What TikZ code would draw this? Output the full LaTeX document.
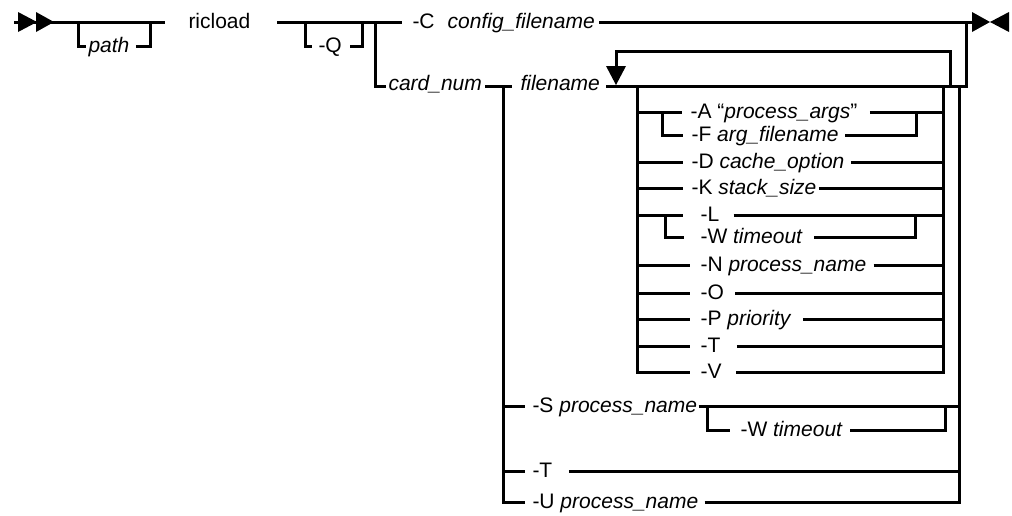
\documentclass[tikz,border=0pt]{standalone}
\usepackage{fontspec}
\setmainfont{Liberation Sans}
\newcommand\dgfont{\fontsize{21}{25}\selectfont}
\begin{document}
\begin{tikzpicture}[x=1pt,y=-1pt,line width=3pt,
  t/.style={font=\dgfont,inner sep=0pt,text height=12pt,text depth=0pt,anchor=west},
  ti/.style={t,font=\dgfont\itshape},
  lo/.style={text height=8pt}]
\useasboundingbox (0,0) rectangle (1012,515);
% ---------- named coordinates ----------
\coordinate (st) at (14,22);
\coordinate (m1) at (165,22);
\coordinate (m2) at (277,22);
\coordinate (pL) at (78,22);
\coordinate (pR) at (150,22);
\coordinate (qL) at (305,22);
\coordinate (qR) at (362,22);
\coordinate (b0) at (375,22);
\coordinate (eT) at (972,22);
\coordinate (e1) at (966,86.5);
\coordinate (cL) at (503,86.5);
\coordinate (bL) at (637,86.5);
\coordinate (bR) at (943,86.5);
\coordinate (lp1) at (950,86.5);
\coordinate (lp2) at (950,51);
\coordinate (lp3) at (616,51);
\coordinate (lp4) at (616,67);
\coordinate (cR) at (959,86.5);
\coordinate (sAF) at (662,112);
\coordinate (eAF) at (916,112);
\coordinate (sLW) at (665,215);
\coordinate (eLW) at (915,215);
\coordinate (sSW) at (707,406);
\coordinate (eSW) at (945,406);
% ---------- start / end marks ----------
\fill (18,12) -- (37,22) -- (18,32) -- cycle;
\fill (36,12) -- (54,22) -- (36,32) -- cycle;
\fill (972,12) -- (990,22) -- (972,32) -- cycle;
\fill (1009,12) -- (990,22) -- (1009,32) -- cycle;
% ---------- top row ----------
\draw (st) -- (m1);
\node[ti] (path) at (87,46) {path};
\draw (pL) -- (pL |- path.west) -- ([xshift=-1pt]path.west);
\draw ([xshift=5pt]path.east) -- (pR |- path.west) -- (pR);
\node[t] (ric) at (187,22) {ricload};
\node[t] (Q) at (317,46) {-Q};
\draw (qL) -- (qL |- Q.west) -- ([xshift=-5pt]Q.west);
\draw ([xshift=7pt]Q.east) -- (qR |- Q.west) -- (qR);
\node[t] (C) at (411,22) {-C\hspace{13pt}\textit{config\_filename}};
\draw (m2) -- ([xshift=-9pt]C.west);
\draw ([xshift=3pt]C.east) -- (eT);
% ---------- second row ----------
\node[ti,lo] (card) at (387,86.5) {card\_num};
\draw (b0) -- (b0 |- card.west) -- ([xshift=-1pt]card.west);
\node[ti,lo] (fn) at (519,86.5) {filename};
\draw ([xshift=2pt]card.east) -- ([xshift=-7pt]fn.west);
\draw ([xshift=5pt]fn.east) -- (e1) -- (eT -| e1);
% loop back
\draw (lp1) -- (lp2) -- (lp3) -- (lp4);
\fill (606,66) -- (626,66) -- (616,85) -- cycle;
% ---------- option group ----------
\node[t] (A) at (689,112) {-A “\textit{process\_args}”};
\draw (bL |- A.west) -- ([xshift=-7pt]A.west);
\draw ([xshift=11pt]A.east) -- (bR |- A.west);
\node[t] (F) at (690,135) {-F \textit{arg\_filename}};
\draw (sAF) -- (sAF |- F.west) -- ([xshift=-7pt]F.west);
\draw ([xshift=5pt]F.east) -- (eAF |- F.west) -- (eAF);
\node[t] (D) at (690,162) {-D \textit{cache\_option}};
\draw (bL |- D.west) -- ([xshift=-7pt]D.west);
\draw ([xshift=5pt]D.east) -- (bR |- D.west);
\node[t] (K) at (690,188) {-K \textit{stack\_size}};
\draw (bL |- K.west) -- ([xshift=-7pt]K.west);
\draw ([xshift=1pt]K.east) -- (bR |- K.west);
\node[t] (L) at (699,215) {-L};
\draw (bL |- L.west) -- ([xshift=-16pt]L.west);
\draw ([xshift=13pt]L.east) -- (bR |- L.west);
\node[t] (W) at (699,237) {-W \textit{timeout}};
\draw (sLW) -- (sLW |- W.west) -- ([xshift=-15pt]W.west);
\draw ([xshift=10pt]W.east) -- (eLW |- W.west) -- (eLW);
\node[t] (N) at (699,265) {-N \textit{process\_name}};
\draw (bL |- N.west) -- ([xshift=-9pt]N.west);
\draw ([xshift=6pt]N.east) -- (bR |- N.west);
\node[t] (O) at (699,293) {-O};
\draw (bL |- O.west) -- ([xshift=-9pt]O.west);
\draw ([xshift=10pt]O.east) -- (bR |- O.west);
\node[t] (P) at (699,319) {-P \textit{priority}};
\draw (bL |- P.west) -- ([xshift=-9pt]P.west);
\draw ([xshift=10pt]P.east) -- (bR |- P.west);
\node[t] (T) at (699,346) {-T};
\draw (bL |- T.west) -- ([xshift=-9pt]T.west);
\draw ([xshift=15pt]T.east) -- (bR |- T.west);
\node[t] (V) at (699,372) {-V};
\draw (bL) -- (bL |- V.west) -- ([xshift=-9pt]V.west);
\draw ([xshift=13pt]V.east) -- (bR |- V.west) -- (bR);
% ---------- lower alternatives ----------
\node[t] (S) at (531,406) {-S \textit{process\_name}};
\draw (cL |- S.west) -- ([xshift=-6pt]S.west);
\draw (S.east) -- (cR |- S.west);
\node[t] (W2) at (739,430) {-W \textit{timeout}};
\draw (sSW) -- (sSW |- W2.west) -- ([xshift=-9pt]W2.west);
\draw ([xshift=6pt]W2.east) -- (eSW |- W2.west) -- (eSW);
\node[t] (T2) at (531,471) {-T};
\draw (cL |- T2.west) -- ([xshift=-6pt]T2.west);
\draw ([xshift=15pt]T2.east) -- (cR |- T2.west);
\node[t] (U) at (531,502) {-U \textit{process\_name}};
\draw (cL) -- (cL |- U.west) -- ([xshift=-6pt]U.west);
\draw ([xshift=5pt]U.east) -- (cR |- U.west) -- (cR);
\end{tikzpicture}
\end{document}
